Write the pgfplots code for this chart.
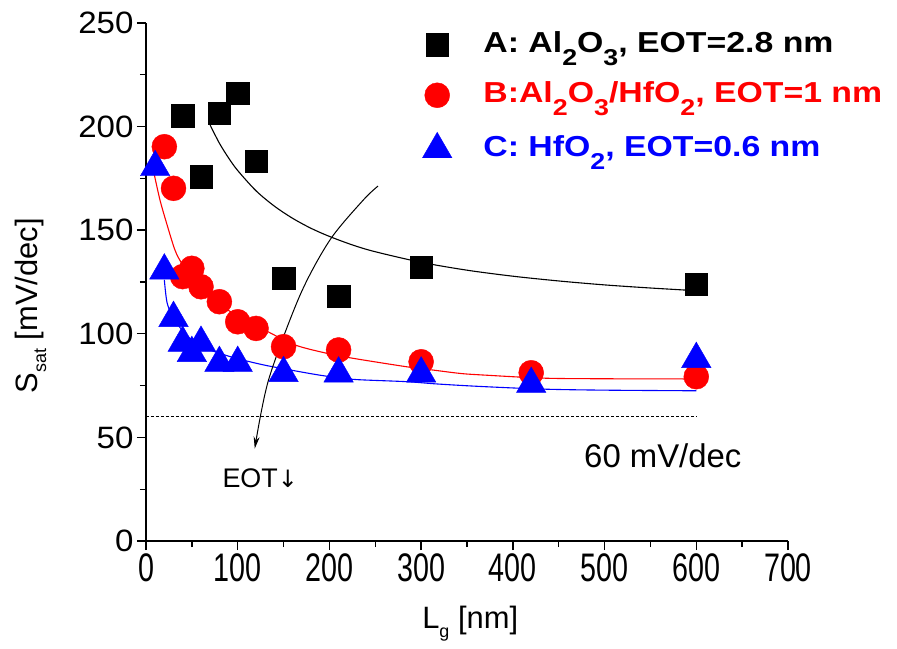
\documentclass[border=0pt]{standalone}
\usepackage{pgfplots}
\pgfplotsset{compat=1.18}
\usepackage{fontspec}
\setmainfont{Liberation Sans}
\newfontfamily\dejavu{DejaVu Sans}
\usepackage{graphicx}
\usetikzlibrary{arrows.meta}
\newcommand\lsub[1]{\raisebox{-13bp}{\fontsize{23}{23}\selectfont #1}}
\newcommand\asub[1]{\raisebox{-9bp}{\fontsize{18}{18}\selectfont #1}}
\newcommand\wide[1]{\scalebox{1.17}[1]{#1}}
\begin{document}
\begin{tikzpicture}
\begin{axis}[
  at={(0,0)}, anchor=south west,
  scale only axis, width=642bp, height=518bp,
  xmin=0, xmax=700, ymin=0, ymax=250,
  axis lines=left, axis line style={-, line width=1.6bp},
  clip=false,
  xtick={0,100,...,700}, ytick={0,50,...,250},
  minor x tick num=1, minor y tick num=1,
  tick align=outside,
  major tick length=9bp, minor tick length=6bp,
  every tick/.style={black, line width=1.4bp},
  /pgf/number format/assume math mode=true,
  yticklabel={\scalebox{1.07}[1]{\fontsize{31}{31}\selectfont\pgfmathprintnumber{\tick}}},
  xticklabel={\scalebox{0.72}[1]{\fontsize{40}{40}\selectfont\pgfmathprintnumber{\tick}}},
  xlabel={L\asub{g} [nm]},
  ylabel={S\asub{sat} [mV/dec]},
  every axis y label/.style={at={(axis description cs:-0.18,0.454)}, rotate=90, anchor=center, font=\fontsize{31}{31}\selectfont},
  every axis x label/.style={at={(axis description cs:0.505,-0.16)}, anchor=center, font=\fontsize{31}{31}\selectfont},
  legend style={at={(axis cs:295.5,246)}, anchor=north west, draw=none, fill=none,
    inner sep=0pt, outer sep=0pt, row sep=23.5bp,
    nodes={inner sep=0pt, text height=21bp, text depth=6bp},
    font=\bfseries\fontsize{29}{29}\selectfont},
  legend cell align=left,
  legend image code/.code={\path (-20bp,0bp) (46bp,0bp); \draw[#1, only marks] plot coordinates {(0bp,0bp)};},
]
% fitted curves
\addplot[black, line width=1.1bp, smooth, forget plot] coordinates {
(70,200.7)(80,192.0)(90,184.9)(100,178.8)(120,169.0)(140,161.6)(160,155.7)(180,150.9)(200,147.0)(225,142.9)(250,139.6)(300,134.5)(350,130.7)(400,127.8)(450,125.5)(500,123.6)(550,122.1)(600,120.8)};
\addplot[red, line width=1.1bp, smooth, forget plot] coordinates {
(8,179)(15,165)(22.5,153.3)(31.6,140.4)(39,134)(50,127.5)(60,122.5)(80,114.5)(100,108.5)(133,101)(162.5,94.6)(197,90.6)(224,88.3)(284,84.1)(313,82.5)(342,80.9)(364,80.2)(433,78.6)(500,78.3)(600,78.2)};
\addplot[blue, line width=1.1bp, smooth, forget plot] coordinates {
(20,126)(23,115)(30,107.5)(44,99.4)(60,94)(91.6,89)(128,85)(164,82)(193,79.8)(226,78)(284,76.9)(317,75.8)(364,74.6)(433,73.3)(500,72.8)(600,72.5)};
% 60 mV/dec line
\addplot[black, line width=0.8bp, dash pattern=on 3bp off 2bp, forget plot] coordinates {(0,60)(600,60)};
% arrow
\addplot[black, line width=1bp, smooth, -{Stealth[length=12bp,width=6bp]}, forget plot] coordinates {
(253,171.3)(237,164.6)(200.6,145.3)(168,118.7)(133.6,77.7)(118.6,44.6)};
% data
\addplot[only marks, mark=square*, mark size=11.25bp, black] coordinates {
(40,205.3)(60,175.8)(80,206.4)(100,216)(120,183.4)(150,126.8)(210,118.2)(300,132.1)(600,123.9)};
\addlegendentry{\wide{A: Al\lsub{2}O\lsub{3}, EOT=2.8 nm}}
\addplot[only marks, mark=*, mark size=12.5bp, red] coordinates {
(20,190.3)(30,170.2)(40,127.6)(50,131.6)(60,122.7)(80,115.5)(100,105.8)(120,102.6)(150,93.8)(210,92.2)(300,86.5)(420,81.2)(600,79.3)};
\addlegendentry{\textcolor{red}{\wide{B:Al\lsub{2}O\lsub{3}/HfO\lsub{2}, EOT=1 nm}}}
\addplot[only marks, mark=triangle*, mark size=17bp, blue] coordinates {
(10,180.4)(20,130.5)(30,107.6)(40,95.6)(50,90.7)(60,95.6)(80,85.9)(100,85.9)(150,81)(210,80.8)(300,80.8)(420,75.8)(600,87.8)};
\addlegendentry{\textcolor{blue}{\wide{C: HfO\lsub{2}, EOT=0.6 nm}}}
\node[anchor=base west, font=\fontsize{33}{33}\selectfont] at (axis cs:474,35.7) {60 mV/dec};
\node[anchor=base west, font=\fontsize{27}{27}\selectfont] at (axis cs:79.6,26) {EOT{\dejavu\fontsize{24}{24}\selectfont ↓}};
\end{axis}
\pgfresetboundingbox
\path[use as bounding box] (-146bp,-108bp) rectangle (751bp,541bp);
\end{tikzpicture}
\end{document}
